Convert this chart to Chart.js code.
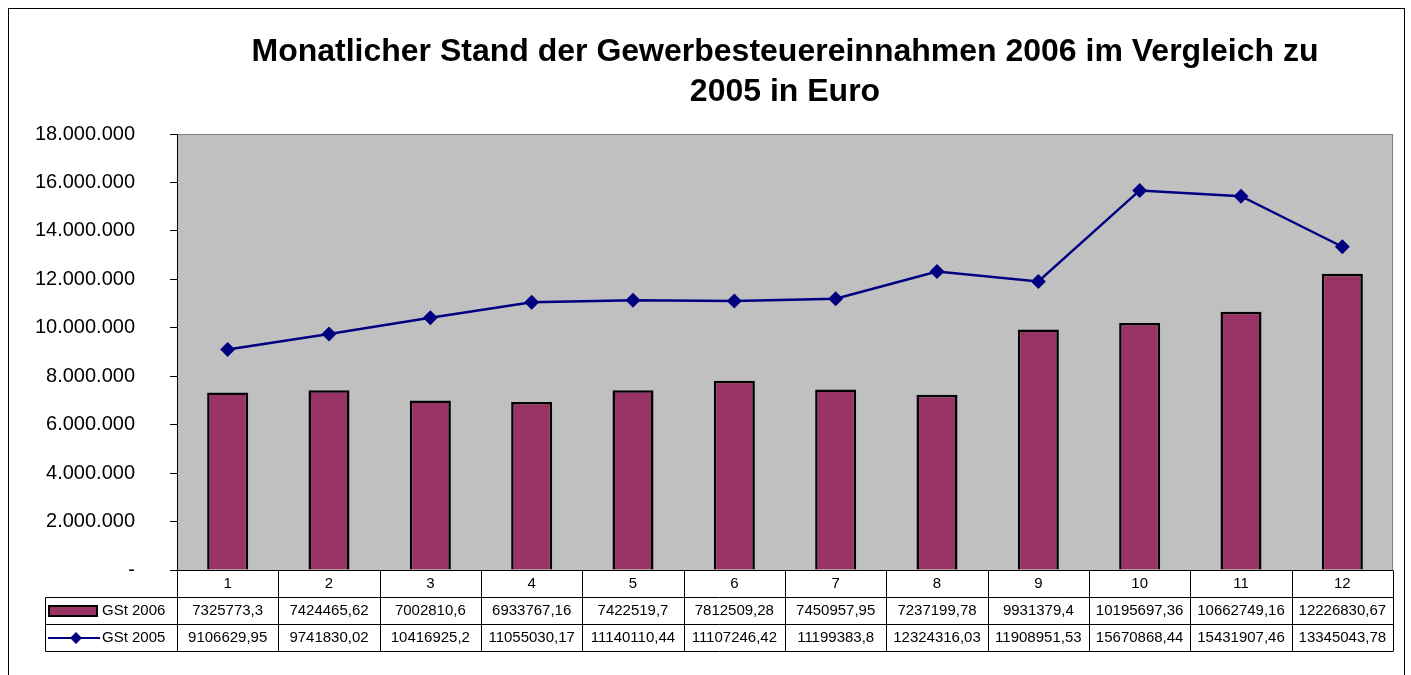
<!DOCTYPE html>
<html>
<head>
<meta charset="utf-8">
<script src="https://cdn.jsdelivr.net/npm/chart.js@4.4.1/dist/chart.umd.min.js"></script>
<style>
  html, body { margin: 0; padding: 0; background: #fff; }
  #wrap { width: 1411px; height: 675px; position: relative; }
</style>
</head>
<body>
<div id="wrap"><canvas id="chart"></canvas></div>
<script>
  const months = ['1', '2', '3', '4', '5', '6', '7', '8', '9', '10', '11', '12'];
  const gst2006 = [7325773.3, 7424465.62, 7002810.6, 6933767.16, 7422519.7, 7812509.28,
                   7450957.95, 7237199.78, 9931379.4, 10195697.36, 10662749.16, 12226830.67];
  const gst2005 = [9106629.95, 9741830.02, 10416925.2, 11055030.17, 11140110.44, 11107246.42,
                   11199383.8, 12324316.03, 11908951.53, 15670868.44, 15431907.46, 13345043.78];
  const seriesNames = ['GSt 2006', 'GSt 2005'];
  const titleLines = ['Monatlicher Stand der Gewerbesteuereinnahmen 2006 im Vergleich zu', '2005 in Euro'];

  const FONT = 'Arial, "Liberation Sans", sans-serif';
  const BAR = '#993366';
  const LINE = '#000080';

  // 9106629,95 style, as in the source sheet
  const cellText = v => String(v).replace('.', ',');
  const thousands = v => v === 0 ? '-' : String(v).replace(/\B(?=(\d{3})+(?!\d))/g, '.');

  const frame = {
    id: 'frame',
    beforeDraw(chart) {
      const { ctx, chartArea: a } = chart;
      ctx.save();
      ctx.fillStyle = '#fff';
      ctx.fillRect(0, 0, chart.width, chart.height);
      ctx.strokeStyle = '#000';
      ctx.lineWidth = 1;
      ctx.strokeRect(8.5, 8.5, 1396, 720);
      ctx.fillStyle = '#c0c0c0';
      ctx.fillRect(a.left, a.top, a.right - a.left, a.bottom - a.top);
      ctx.strokeStyle = '#808080';
      ctx.strokeRect(a.left + 0.5, a.top + 0.5, a.right - a.left - 1, a.bottom - a.top);
      ctx.restore();
    }
  };

  // data table under the plot (Excel style)
  const dataTable = {
    id: 'dataTable',
    afterDraw(chart) {
      const { ctx, chartArea: a } = chart;
      const xs = chart.scales.x;
      const rowH = 27;
      const colW = (a.right - a.left) / months.length;
      const tLeft = 45.5;
      const top = Math.round(a.bottom) + 0.5;
      ctx.save();
      ctx.strokeStyle = '#000';
      ctx.lineWidth = 1;
      ctx.beginPath();
      // axis line
      ctx.moveTo(a.left, top); ctx.lineTo(a.right, top);
      // horizontal rules
      for (let r = 1; r <= 3; r++) {
        ctx.moveTo(tLeft, top + r * rowH); ctx.lineTo(a.right, top + r * rowH);
      }
      ctx.moveTo(tLeft, top + rowH); ctx.lineTo(tLeft, top + 3 * rowH);
      for (let i = 0; i <= months.length; i++) {
        const x = Math.round(a.left + i * colW) + 0.5;
        ctx.moveTo(x, top); ctx.lineTo(x, top + 3 * rowH);
      }
      ctx.stroke();

      ctx.fillStyle = '#000';
      ctx.font = '15px ' + FONT;
      ctx.textAlign = 'center';
      ctx.textBaseline = 'middle';
      months.forEach((m, i) => {
        const cx = xs.getPixelForValue(i);
        ctx.fillText(m, cx, top + rowH * 0.5);
        ctx.fillText(cellText(gst2006[i]), cx, top + rowH * 1.5);
        ctx.fillText(cellText(gst2005[i]), cx, top + rowH * 2.5);
      });

      // legend keys
      const y1 = top + rowH * 1.5, y2 = top + rowH * 2.5;
      ctx.fillStyle = BAR;
      ctx.fillRect(49, y1 - 5, 48, 10);
      ctx.lineWidth = 2;
      ctx.strokeRect(49, y1 - 5, 48, 10);
      ctx.strokeStyle = LINE;
      ctx.beginPath();
      ctx.moveTo(48, y2); ctx.lineTo(100, y2);
      ctx.stroke();
      ctx.fillStyle = LINE;
      ctx.beginPath();
      ctx.moveTo(76, y2 - 6); ctx.lineTo(82, y2); ctx.lineTo(76, y2 + 6); ctx.lineTo(70, y2);
      ctx.closePath();
      ctx.fill();
      ctx.fillStyle = '#000';
      ctx.textAlign = 'left';
      ctx.fillText(seriesNames[0], 102, y1);
      ctx.fillText(seriesNames[1], 102, y2);
      ctx.restore();
    }
  };

  new Chart(document.getElementById('chart'), {
    data: {
      labels: months,
      datasets: [
        {
          type: 'line',
          label: seriesNames[1],
          data: gst2005,
          borderColor: LINE,
          backgroundColor: LINE,
          borderWidth: 2.5,
          pointStyle: 'rectRot',
          pointRadius: 7.5,
          pointBorderWidth: 0,
          pointBackgroundColor: LINE,
          tension: 0,
          order: 0
        },
        {
          type: 'bar',
          label: seriesNames[0],
          data: gst2006,
          backgroundColor: BAR,
          borderColor: '#000',
          borderWidth: 2.5,
          barPercentage: 0.405,
          categoryPercentage: 1,
          order: 1
        }
      ]
    },
    options: {
      responsive: true,
      maintainAspectRatio: false,
      animation: false,
      layout: { padding: { left: 0, right: 18, top: 0, bottom: 105 } },
      plugins: {
        legend: { display: false },
        tooltip: { enabled: false },
        title: {
          display: true,
          text: titleLines,
          fullSize: false,
          color: '#000',
          font: { family: FONT, size: 32, weight: 'bold', lineHeight: 1.25 },
          padding: { top: 32, bottom: 22 }
        }
      },
      scales: {
        x: { display: false, offset: true },
        y: {
          min: 0,
          max: 18000000,
          afterFit(scale) { scale.width = 177; },
          border: { display: true, color: '#000', width: 1 },
          grid: { drawOnChartArea: false, drawTicks: true, tickLength: 7, color: '#000' },
          ticks: {
            stepSize: 2000000,
            padding: 35,
            color: '#000',
            font: { family: FONT, size: 20 },
            callback: v => thousands(v)
          }
        }
      }
    },
    plugins: [frame, dataTable]
  });
</script>
</body>
</html>
